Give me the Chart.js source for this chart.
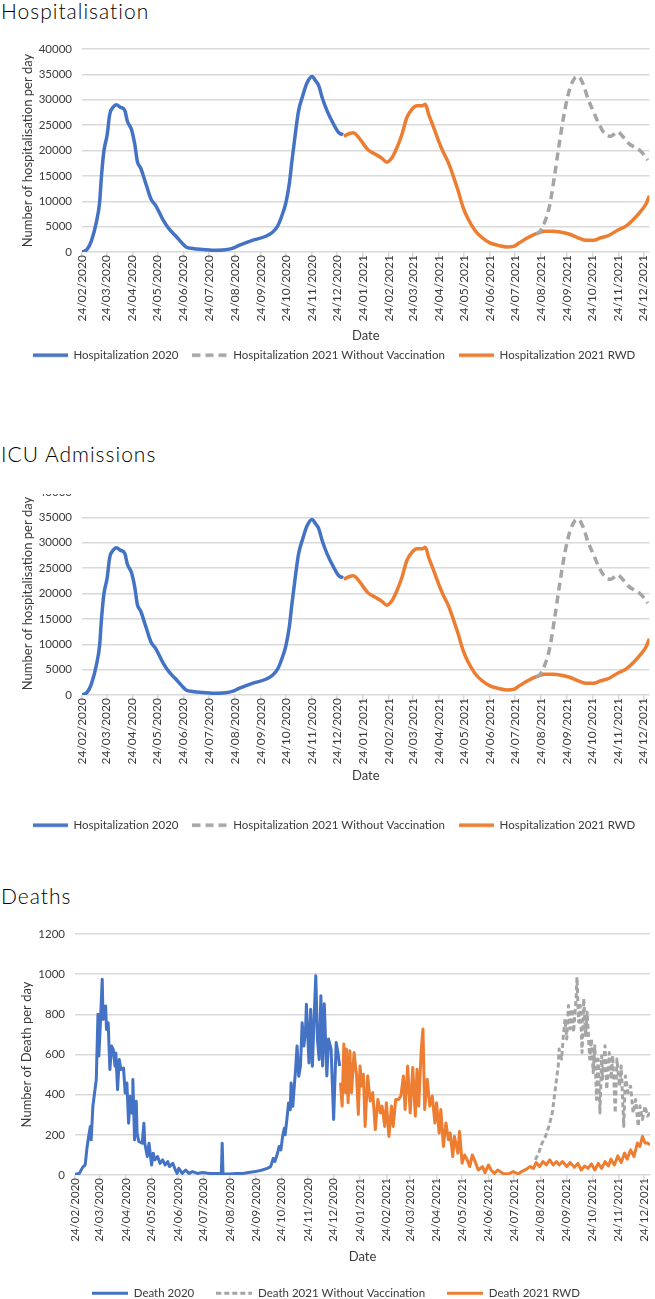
<!DOCTYPE html>
<html>
<head>
<meta charset="utf-8">
<title>Hospitalisation, ICU admissions and deaths</title>
<script src="https://cdn.jsdelivr.net/npm/chart.js@4.4.1/dist/chart.umd.min.js"></script>
<style>
html, body { margin: 0; padding: 0; background: #fff; overflow: hidden; }
.title { position: absolute; left: 1px; font-family: Lato, sans-serif; font-weight: 300; font-size: 21px; line-height: 21px; letter-spacing: 1px; color: #000; }
canvas { position: absolute; left: 0; }
#clip2 { position: absolute; left: 0; top: 494px; width: 655px; height: 360px; overflow: hidden; }
</style>
</head>
<body>
<div class="title" style="top:0px">Hospitalisation</div>
<canvas id="hosp" width="655" height="341" style="top:30px"></canvas>
<div class="title" style="top:443px">ICU Admissions</div>
<div id="clip2"><canvas id="icu" width="655" height="368" style="top:-21px"></canvas></div>
<div class="title" style="top:885px">Deaths</div>
<canvas id="deaths" width="655" height="399" style="top:910px"></canvas>
<script>
// x axis: a label on the 24th of every month
const tickLabels = ['24/02/2020','24/03/2020','24/04/2020','24/05/2020','24/06/2020','24/07/2020',
  '24/08/2020','24/09/2020','24/10/2020','24/11/2020','24/12/2020','24/01/2021','24/02/2021',
  '24/03/2021','24/04/2021','24/05/2021','24/06/2021','24/07/2021','24/08/2021','24/09/2021',
  '24/10/2021','24/11/2021','24/12/2021'];
const lastDay = 676; // 31/12/2021, days counted from 24/02/2020

// [day, hospitalisations per day]
const hosp2020 = [[0,0],[6,500],[11,2100],[17,5800],[21,9800],[23,14500],[26,19800],[30,23100],[33,27100],
  [37,28500],[41,29000],[46,28500],[51,27900],[54,25800],[59,24100],[63,21100],[66,17800],[70,16500],
  [76,13500],[82,10500],[88,9100],[96,6500],[104,4500],[112,3100],[119,1800],[124,1000],[132,700],
  [144,500],[155,350],[171,450],[179,700],[187,1300],[203,2300],[219,3100],[227,3900],[233,5100],
  [238,7100],[243,9800],[247,13500],[250,17800],[254,23100],[258,27800],[263,30800],[268,33300],
  [274,34600],[278,33800],[282,32800],[286,30500],[292,27800],[300,25100],[306,23500],[311,23100]];
const hospNoVacc = [[541,3600],[545,3900],[551,5800],[557,9100],[563,15100],[569,21800],[575,27800],
  [581,32100],[587,34300],[591,34600],[597,33100],[603,30100],[609,27800],[615,25500],[622,23500],
  [630,22800],[638,23700],[644,22800],[652,21300],[660,20500],[666,19800],[674,18100]];
const hospRwd = [[312,22800],[318,23300],[323,23500],[330,22500],[336,21100],[341,20100],[349,19300],
  [357,18500],[363,17700],[369,18500],[375,20500],[381,23100],[387,26500],[393,28100],[399,28800],
  [405,28800],[409,29100],[413,27100],[419,24500],[425,21800],[430,19800],[436,17800],[442,15100],
  [448,12100],[454,8800],[460,6500],[468,4300],[476,2900],[486,1800],[496,1300],[506,1000],[514,1100],
  [521,1800],[531,2800],[541,3600],[551,4100],[561,4100],[571,3900],[581,3500],[591,2800],[601,2300],
  [609,2300],[618,2800],[628,3300],[638,4300],[648,5100],[658,6600],[666,8100],[672,9500],[676,11100]];

// [day, deaths per day]
const deaths2020 = [[0,3],[5,8],[9,38],[12,50],[14,133],[16,192],[18,242],[19,175],[21,342],[23,408],
  [25,475],[27,800],[28,592],[29,675],[32,975],[33,775],[36,842],[37,725],[39,758],[41,525],
  [43,642],[45,625],[47,542],[48,608],[50,425],[52,575],[54,525],[57,533],[59,408],[61,458],
  [63,258],[65,392],[67,308],[68,475],[70,175],[72,367],[73,208],[75,167],[79,158],[81,258],
  [82,158],[85,92],[87,158],[90,50],[92,108],[94,75],[97,92],[100,58],[103,75],[106,50],
  [109,67],[111,42],[115,58],[118,25],[120,8],[122,33],[126,8],[130,25],[134,8],[138,17],
  [144,8],[150,12],[158,8],[165,8],[172,8],[173,158],[174,5],[181,5],[189,8],[197,8],
  [204,12],[212,17],[220,25],[226,33],[230,42],[233,83],[235,67],[238,108],[240,142],[242,125],
  [244,192],[246,233],[247,200],[249,275],[251,358],[253,325],[254,458],[256,342],[258,458],[259,508],
  [261,642],[263,492],[265,542],[267,758],[269,642],[271,725],[272,850],[275,558],[277,825],[279,542],
  [281,775],[283,992],[285,675],[287,575],[289,893],[291,543],[293,853],[296,493],[298,677],[301,627],
  [304,276],[307,660],[309,610],[311,543]];
const deathsNoVacc = [[541,75],[545,109],[549,159],[553,192],[557,242],[561,309],[563,376],[565,443],
  [568,543],[569,627],[572,577],[574,694],[576,777],[578,677],[580,844],[582,727],[584,827],[586,711],
  [589,878],[590,985],[592,761],[594,844],[596,610],[598,878],[600,694],[602,811],[605,577],[607,677],
  [609,510],[611,644],[613,376],[615,577],[617,309],[619,594],[620,477],[623,644],[625,427],[628,610],
  [630,477],[632,594],[635,309],[637,577],[640,443],[642,543],[645,242],[647,493],[650,410],[653,443],
  [656,309],[659,376],[662,242],[664,343],[667,276],[670,343],[673,293],[676,310]];
const deathsRwd = [[312,460],[314,343],[316,652],[318,410],[319,627],[321,360],[323,619],[325,410],
  [328,610],[331,493],[333,301],[335,543],[337,443],[339,502],[341,242],[344,493],[347,368],[350,410],
  [353,226],[356,376],[359,309],[361,343],[364,242],[366,360],[369,192],[372,343],[374,242],[377,376],
  [380,376],[383,393],[386,493],[388,326],[391,543],[394,309],[397,535],[400,293],[402,527],[404,343],
  [407,627],[409,727],[411,326],[414,477],[417,343],[420,393],[423,259],[425,360],[428,209],[430,326],
  [433,142],[436,259],[439,176],[441,209],[444,92],[446,192],[450,109],[452,217],[455,59],[458,100],
  [461,75],[464,42],[467,100],[471,59],[474,25],[479,42],[482,12],[486,50],[489,25],[493,8],
  [497,25],[503,8],[509,5],[515,17],[521,5],[525,17],[530,28],[535,42],[539,33],[542,62],
  [546,42],[550,67],[554,50],[558,75],[562,50],[566,67],[569,50],[573,67],[578,42],[582,62],
  [587,38],[591,58],[595,25],[599,45],[603,33],[607,55],[611,25],[615,58],[619,33],[623,67],
  [627,45],[630,79],[634,50],[638,95],[642,62],[646,109],[649,79],[653,125],[657,92],[661,159],
  [664,142],[667,192],[670,159],[673,159],[676,150]];

const BLUE = '#4472C4', GREY = '#A5A5A5', ORANGE = '#ED7D31';
const TXT = '#3a3a3a';
Chart.defaults.font.family = 'Lato, "Open Sans", sans-serif';

const toDay = s => {
  const [d, m, y] = s.split('/').map(Number);
  return Math.round((Date.UTC(y, m - 1, d) - Date.UTC(2020, 1, 24)) / 864e5);
};
const tickDays = tickLabels.map(toDay);
const pts = arr => arr.map(([x, y]) => ({x, y}));

// small line sample for the legend (keeps the dash pattern)
function legendIcon(color, dash, w, lw) {
  const cv = document.createElement('canvas');
  cv.width = w; cv.height = Math.ceil(lw) + 2;
  const g = cv.getContext('2d');
  g.strokeStyle = color; g.lineWidth = lw; g.setLineDash(dash);
  g.beginPath(); g.moveTo(0, cv.height / 2); g.lineTo(w, cv.height / 2); g.stroke();
  return cv;
}

function lineChart(id, c) {
  return new Chart(document.getElementById(id), {
    type: 'line',
    data: {
      datasets: c.series.map(s => ({
        label: s.label,
        data: pts(s.data),
        borderColor: s.color,
        backgroundColor: s.color,
        borderWidth: c.lineWidth,
        borderDash: s.dash || [],
        borderJoinStyle: 'round',
        cubicInterpolationMode: c.smooth ? 'monotone' : 'default',
        pointRadius: 0,
        pointStyle: legendIcon(s.color, s.dash || [], c.boxW, c.lineWidth)
      }))
    },
    options: {
      responsive: false,
      animation: false,
      layout: { padding: { top: c.padTop, right: 3, bottom: 0, left: c.padLeft } },
      plugins: {
        tooltip: { enabled: false },
        legend: {
          position: 'bottom',
          labels: {
            usePointStyle: true, pointStyleWidth: c.boxW,
            padding: c.legendPad, color: TXT, font: { size: 11.5 }
          }
        }
      },
      scales: {
        x: {
          type: 'linear', min: 0, max: lastDay,
          afterBuildTicks: ax => { ax.ticks = tickDays.map(v => ({ value: v })); },
          afterFit: ax => { ax.height = c.xHeight; },
          ticks: {
            autoSkip: false, minRotation: 90, maxRotation: 90, padding: -3,
            color: TXT, font: { size: c.xFont },
            callback: v => tickLabels[tickDays.indexOf(v)]
          },
          grid: { drawOnChartArea: false, tickLength: 6, color: '#d9d9d9', lineWidth: 1.5 },
          border: { display: false },
          title: { display: true, text: 'Date', color: TXT, font: { size: 13 }, padding: { top: 0, bottom: c.datePad } }
        },
        y: {
          min: 0, max: c.yMax,
          afterFit: ax => { ax.width = c.yWidth; },
          ticks: { stepSize: c.yStep, padding: 10, color: TXT, font: { size: 11.5 }, callback: v => String(v) },
          grid: { drawTicks: false, color: '#d9d9d9', lineWidth: 1.5 },
          border: { display: false },
          title: { display: true, text: c.yTitle, color: TXT, font: { size: 13 }, padding: { top: c.yTitlePad, bottom: 0 } }
        }
      }
    }
  });
}

const hospSeries = [
  { label: 'Hospitalization 2020', data: hosp2020, color: BLUE },
  { label: 'Hospitalization 2021 Without Vaccination', data: hospNoVacc, color: GREY, dash: [8, 5] },
  { label: 'Hospitalization 2021 RWD', data: hospRwd, color: ORANGE }
];

lineChart('hosp', {
  series: hospSeries, lineWidth: 3.5, smooth: true,
  padTop: 19, padLeft: 16, yWidth: 66, xHeight: 83.5, datePad: -8.3, legendPad: 14, boxW: 35, xFont: 12,
  yMax: 40000, yStep: 5000, yTitle: 'Number of hospitalisation per day', yTitlePad: 4.2
});

lineChart('icu', {
  series: hospSeries, lineWidth: 3.5, smooth: true,
  padTop: 19, padLeft: 16, yWidth: 66, xHeight: 110.5, datePad: 21.7, legendPad: 14, boxW: 35, xFont: 12,
  yMax: 40000, yStep: 5000, yTitle: 'Number of hospitalisation per day', yTitlePad: 4.2
});

lineChart('deaths', {
  series: [
    { label: 'Death 2020', data: deaths2020, color: BLUE },
    { label: 'Death 2021 Without Vaccination', data: deathsNoVacc, color: GREY, dash: [5, 3] },
    { label: 'Death 2021 RWD', data: deathsRwd, color: ORANGE }
  ],
  lineWidth: 3, smooth: false,
  padTop: 24, padLeft: 20, yWidth: 55, xHeight: 90.5, datePad: 0.7, legendPad: 22, boxW: 36, xFont: 11.5,
  yMax: 1200, yStep: 200, yTitle: 'Number of Death per day', yTitlePad: -0.8
});
</script>
</body>
</html>
